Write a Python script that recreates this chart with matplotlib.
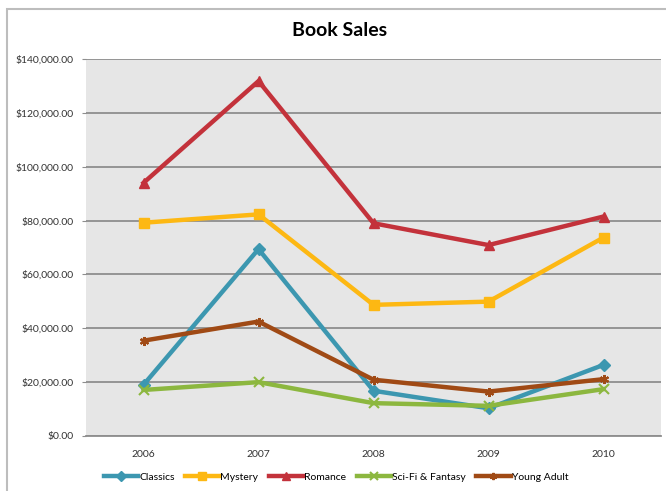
import matplotlib.pyplot as plt
from matplotlib.ticker import FuncFormatter
from matplotlib.patches import Rectangle

plt.rcParams['font.family'] = ['Lato', 'DejaVu Sans']

# data
years = ['2006', '2007', '2008', '2009', '2010']
classics = [19000, 69400, 16800, 10300, 26400]
mystery = [79200, 82300, 48700, 49900, 73700]
romance = [94000, 131800, 79000, 70900, 81500]
scifi = [17100, 20000, 12200, 11200, 17400]
young_adult = [35400, 42500, 20900, 16500, 21100]

series = [
    ('Classics', classics, '#3c97b0', 'D'),
    ('Mystery', mystery, '#fdb813', 's'),
    ('Romance', romance, '#c3323b', '^'),
    ('Sci-Fi & Fantasy', scifi, '#8cb73f', 'x'),
    ('Young Adult', young_adult, '#a04a15', (6, 2, 0)),
]

fig = plt.figure(figsize=(6.66, 4.91), dpi=100)

# chart outer border
fig.patches.append(Rectangle((7 / 666, -0.1), 1.2, 1 - 9 / 491 + 0.1,
                             transform=fig.transFigure, fill=False,
                             edgecolor='#bdbdbd', linewidth=1.5))

ax = fig.add_axes([86 / 666, 1 - 436 / 491, 575 / 666, 377 / 491])
ax.set_facecolor('#e6e6e6')

x = list(range(len(years)))
for name, vals, col, mk in series:
    ax.plot(x, vals, color=col, linewidth=3.2, marker=mk, markersize=6.5,
            markeredgewidth=1.5 if mk in ('x', (6, 2, 0)) else 1,
            markeredgecolor=col, label=name)

ax.set_xlim(-0.5, 4.5)
ax.set_ylim(0, 140000)
ax.set_yticks(range(0, 140001, 20000))
ax.yaxis.set_major_formatter(FuncFormatter(lambda v, p: '${:,.2f}'.format(v)))
ax.set_xticks(x)
ax.set_xticklabels(years)
ax.grid(axis='y', color='#8e8e8e', linewidth=1.3)
ax.set_axisbelow(True)
for s in ['top', 'right', 'left']:
    ax.spines[s].set_visible(False)
ax.spines['bottom'].set_color('#8e8e8e')
ax.spines['bottom'].set_linewidth(1.3)
ax.tick_params(axis='y', length=3, color='#8e8e8e', labelsize=7.5, pad=6,
               labelcolor='#333333')
ax.tick_params(axis='x', length=0, labelsize=7.5, pad=10, labelcolor='#333333')

fig.text(340 / 666, 1 - 31 / 491, 'Book Sales', ha='center', va='center',
         fontsize=14, fontweight='bold')

fig.legend(loc='center', bbox_to_anchor=(336 / 666, 1 - 477 / 491), ncol=5,
           frameon=False, fontsize=7.5, handlelength=3.3, columnspacing=1.0,
           handletextpad=0.1, markerscale=0.8)

plt.savefig('out.png', dpi=100)
